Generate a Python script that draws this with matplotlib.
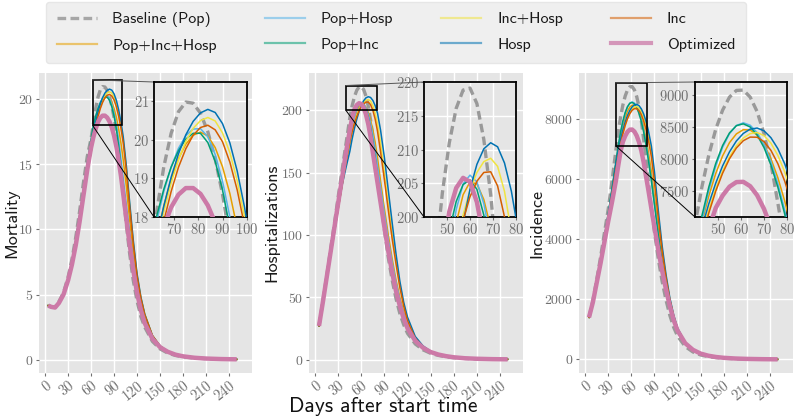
import matplotlib
matplotlib.use('Agg')
import matplotlib.pyplot as plt
from matplotlib.lines import Line2D
from mpl_toolkits.axes_grid1.inset_locator import mark_inset

# ---------------- data ----------------
labels = ['Baseline (Pop)', 'Pop+Inc+Hosp', 'Pop+Hosp', 'Pop+Inc',
          'Inc+Hosp', 'Hosp', 'Inc', 'Optimized']

mort_days = [4, 8, 13, 18, 24, 30, 35, 40, 45, 50, 55,
             60, 63, 66, 69, 72, 75, 78, 81, 84, 87, 90, 93, 96, 99, 102,
             106, 110, 115, 120, 125, 130,
             140, 150, 160, 170, 180, 195, 210, 230, 250]
mort_base = [4.15, 4.05, 4.05, 4.45, 5.15, 6.35, 7.7, 9.4, 11.4, 13.6, 15.6,
             17.0, 18.1, 19.3, 20.17, 20.73, 20.98, 20.95, 20.69, 20.21, 19.51, 18.59, 17.45, 16.08, 14.5, 12.7,
             10.4, 8.3, 6.1, 4.5, 3.3, 2.5,
             1.4, 0.82, 0.5, 0.32, 0.21, 0.12, 0.07, 0.035, 0.018]
mort_pih = [4.15, 4.05, 4.0, 4.4, 5.05, 6.2, 7.4, 9.0, 10.9, 12.8, 14.7,
            16.45, 17.45, 18.29, 18.98, 19.51, 19.89, 20.12, 20.2, 20.1, 19.8, 19.3, 18.61, 17.71, 16.62, 15.3,
            13.3, 10.9, 8.2, 6.0, 4.45, 3.3,
            1.8, 1.0, 0.6, 0.37, 0.24, 0.13, 0.07, 0.035, 0.017]
mort_ph = [4.15, 4.05, 4.0, 4.4, 5.05, 6.25, 7.5, 9.15, 11.0, 13.0, 15.0,
           16.75, 17.86, 18.66, 19.3, 19.78, 20.11, 20.28, 20.29, 20.08, 19.62, 18.93, 18.0, 16.84, 15.4, 13.9,
           11.9, 9.9, 7.6, 5.6, 4.2, 3.1,
           1.75, 1.0, 0.6, 0.37, 0.24, 0.13, 0.07, 0.035, 0.017]
mort_pi = [4.15, 4.05, 4.0, 4.4, 5.05, 6.25, 7.5, 9.2, 11.1, 13.1, 15.1,
           16.95, 18.0, 18.72, 19.29, 19.72, 20.02, 20.17, 20.17, 19.93, 19.44, 18.7, 17.71, 16.38, 14.9, 13.4,
           11.4, 9.6, 7.4, 5.5, 4.1, 3.05,
           1.7, 0.98, 0.59, 0.37, 0.24, 0.13, 0.07, 0.035, 0.017]
mort_ih = [4.15, 4.05, 4.0, 4.4, 5.05, 6.2, 7.4, 9.0, 10.9, 12.8, 14.6,
           16.26, 17.26, 18.14, 18.88, 19.48, 19.96, 20.3, 20.5, 20.58, 20.49, 20.18, 19.67, 18.94, 18.0, 16.85,
           14.7, 12.1, 9.0, 6.5, 4.75, 3.5,
           1.85, 1.03, 0.61, 0.37, 0.24, 0.13, 0.07, 0.035, 0.017]
mort_hosp = [4.15, 4.05, 4.0, 4.4, 5.05, 6.2, 7.4, 9.0, 10.9, 12.8, 14.7,
             16.39, 17.4, 18.28, 19.03, 19.64, 20.13, 20.48, 20.7, 20.79, 20.71, 20.42, 19.92, 19.19, 18.25, 17.09,
             14.9, 12.3, 9.2, 6.6, 4.8, 3.5,
             1.85, 1.05, 0.62, 0.38, 0.25, 0.13, 0.07, 0.035, 0.017]
mort_inc = [4.15, 4.05, 4.0, 4.4, 5.0, 6.15, 7.35, 8.9, 10.7, 12.6, 14.4,
            15.93, 16.98, 17.89, 18.66, 19.29, 19.77, 20.12, 20.32, 20.38, 20.26, 19.95, 19.42, 18.7, 17.77, 16.63,
            14.5, 11.9, 8.9, 6.4, 4.7, 3.45,
            1.85, 1.05, 0.62, 0.38, 0.25, 0.13, 0.07, 0.035, 0.017]
mort_opt = [4.15, 4.05, 4.0, 4.35, 5.0, 6.1, 7.3, 8.8, 10.6, 12.6, 14.6,
            16.3, 17.1, 17.75, 18.25, 18.58, 18.75, 18.75, 18.6, 18.3, 17.85, 17.2, 16.35, 15.3, 14.1, 12.7,
            10.8, 9.0, 6.9, 5.1, 3.8, 2.8,
            1.6, 0.95, 0.6, 0.38, 0.25, 0.14, 0.08, 0.04, 0.02]

hosp_days = [5, 10, 15, 20, 25, 30, 35, 40,
             45, 48, 51, 54, 57, 60, 63, 66, 69, 72, 75, 78, 81,
             85, 90, 95, 100, 105, 110, 115, 120,
             130, 140, 150, 160, 170, 180, 195, 210, 230, 250]
hosp_base = [27, 47, 67, 88, 109, 131, 152, 173,
             193.9, 203.6, 211, 216.1, 218.8, 219.1, 216.8, 211.5, 203.3, 192.3, 178.5, 164, 149,
             129, 104, 82, 64, 49, 37, 28, 21,
             12.5, 7.8, 5.0, 3.3, 2.2, 1.5, 0.85, 0.5, 0.25, 0.12]
hosp_pih = [27, 45, 64, 84, 103, 123, 142, 159,
            173.5, 184, 192.7, 199.1, 203.3, 205.2, 204.9, 202.6, 198.4, 192.2, 184.1, 174.1, 162.1,
            143, 121, 100, 81, 64, 50, 38, 29,
            17, 10.3, 6.3, 4.1, 2.8, 1.9, 1.0, 0.6, 0.3, 0.15]
hosp_ph = [27, 46, 65, 85, 104, 124, 143, 160,
           176, 185.8, 194.7, 201.1, 204.9, 206.2, 205.2, 202, 196.8, 189.5, 180.1, 168.6, 155,
           138, 117, 96, 78, 62, 48, 37, 28,
           16, 10, 6.2, 4.1, 2.8, 1.85, 1.0, 0.6, 0.3, 0.15]
hosp_pi = [27, 46, 65, 85, 105, 125, 145, 164,
           181, 190.5, 197.9, 202.3, 204.8, 205.5, 204.1, 200.3, 194.3, 185.8, 175.1, 162, 147,
           129, 107, 88, 71, 57, 44, 34, 26,
           15.5, 9.7, 6.1, 4.0, 2.7, 1.8, 1.0, 0.6, 0.3, 0.15]
hosp_ih = [27, 45, 64, 83, 102, 122, 141, 158,
           175.3, 183.1, 189.9, 195.7, 200.3, 204, 206.6, 208.2, 208.7, 207.5, 203.8, 197.7, 189.1,
           173.9, 150, 125, 101, 80, 60, 44, 32,
           17, 10.5, 6.3, 4.1, 2.8, 1.9, 1.0, 0.6, 0.3, 0.15]
hosp_hosp = [27, 45, 64, 83, 102, 122, 140, 154,
             167, 177, 185.5, 192.8, 199.1, 204.1, 207.8, 210.1, 211, 210.4, 208, 203.8, 197.8,
             184, 162, 136, 110, 85, 63, 46, 34,
             18.5, 11, 6.6, 4.3, 2.8, 1.9, 1.0, 0.6, 0.3, 0.15]
hosp_inc = [27, 45, 64, 83, 102, 121, 140, 158,
            175.1, 182.8, 189.5, 195, 199.5, 203, 205.3, 206.6, 206.7, 204.6, 200, 192.9, 183.3,
            166.6, 144, 120, 97, 77, 58, 43, 31,
            17, 10.3, 6.3, 4.1, 2.8, 1.9, 1.0, 0.6, 0.3, 0.15]
hosp_opt = [27, 46, 66, 86, 106, 126, 146, 166,
            184, 194, 200.8, 204.3, 205.8, 205.2, 202.2, 196.8, 189, 178.8, 166, 154, 142,
            126, 106, 87, 70, 55, 43, 33, 25,
            15, 9.5, 6, 4, 2.7, 1.8, 1.0, 0.6, 0.3, 0.15]

inc_days = [5, 10, 15, 20, 25, 30, 35,
            40, 43, 46, 49, 52, 55, 58, 61, 64, 67, 70, 73, 76, 79, 82,
            86, 90, 95, 100, 105, 110, 115, 120,
            130, 140, 150, 160, 170, 180, 195, 210, 230, 250]
inc_base = [1400, 1950, 2650, 3400, 4200, 5000, 5950,
            6980, 7568, 8064, 8462, 8762, 8965, 9069, 9074, 8965, 8740, 8398, 7938, 7322, 6674, 5950,
            5050, 4250, 3350, 2600, 1980, 1470, 1070, 780,
            430, 250, 150, 95, 62, 42, 24, 14, 7, 3.5]
inc_pih = [1400, 1910, 2580, 3290, 4050, 4820, 5650,
           6527, 7014, 7428, 7775, 8051, 8257, 8393, 8458, 8453, 8377, 8228, 8007, 7714, 7349, 6913,
           6250, 5400, 4350, 3400, 2600, 1920, 1390, 1000,
           540, 310, 185, 118, 77, 51, 28, 17, 9, 4]
inc_ph = [1400, 1920, 2590, 3300, 4060, 4830, 5660,
          6501, 7049, 7512, 7891, 8186, 8397, 8523, 8565, 8527, 8414, 8226, 7962, 7622, 7207, 6720,
          6000, 5180, 4170, 3260, 2490, 1840, 1325, 965,
          528, 306, 183, 117, 76, 50, 28, 17, 9, 4]
inc_pi = [1400, 1920, 2600, 3320, 4080, 4850, 5700,
          6584, 7118, 7566, 7931, 8212, 8408, 8521, 8549, 8500, 8377, 8180, 7909, 7566, 7147, 6656,
          5950, 5150, 4150, 3250, 2480, 1830, 1320, 960,
          525, 305, 182, 116, 76, 50, 28, 17, 9, 4]
inc_ih = [1400, 1900, 2550, 3250, 3980, 4750, 5560,
          6400, 6831, 7210, 7537, 7812, 8036, 8208, 8329, 8397, 8414, 8367, 8249, 8061, 7802, 7472,
          6900, 6000, 4750, 3650, 2750, 2000, 1450, 1030,
          550, 315, 188, 119, 78, 51, 28, 17, 9, 4]
inc_hosp = [1400, 1910, 2570, 3280, 4030, 4810, 5630,
            6512, 6934, 7305, 7625, 7895, 8114, 8283, 8400, 8467, 8484, 8441, 8334, 8164, 7928, 7628,
            7100, 6250, 4950, 3780, 2830, 2050, 1480, 1050,
            560, 320, 190, 120, 78, 52, 28, 17, 9, 4]
inc_inc = [1400, 1900, 2550, 3240, 3960, 4720, 5520,
           6319, 6769, 7162, 7500, 7781, 8006, 8174, 8287, 8343, 8341, 8273, 8137, 7931, 7658, 7316,
           6750, 5900, 4700, 3600, 2720, 1990, 1440, 1020,
           550, 315, 188, 119, 78, 51, 28, 17, 9, 4]
inc_opt = [1400, 1900, 2550, 3200, 3900, 4600, 5250,
           5950, 6450, 6920, 7240, 7433, 7572, 7643, 7647, 7579, 7439, 7226, 6939, 6555, 6100, 5650,
           5020, 4400, 3650, 2950, 2330, 1780, 1310, 960,
           540, 320, 195, 125, 82, 55, 32, 19, 10, 5]

main_xticks = [0, 30, 60, 90, 120, 150, 180, 210, 240]
mort_yticks = [0, 5, 10, 15, 20]
hosp_yticks = [0, 50, 100, 150, 200]
inc_yticks = [0, 2000, 4000, 6000, 8000]

# ---------------- style ----------------
plt.rcParams.update({
    'font.family': 'cmr10',
    'axes.formatter.use_mathtext': True,
    'axes.unicode_minus': False,
})

BG = '#E5E5E5'
TICKC = '#707070'
colors = ['#999999', '#E69F00', '#56B4E9', '#009E73',
          '#F0E442', '#0072B2', '#D55E00', '#CC79A7']
SANS = 'cmss10'

fig = plt.figure(figsize=(7.95, 4.18), dpi=100)


def draw_lines(ax, days, series):
    base, rest, opt = series[0], series[1:-1], series[-1]
    ax.plot(days, base, color=colors[0], lw=2.4, ls=(0, (2.6, 1.3)), zorder=2)
    for s, c in zip(rest, colors[1:-1]):
        ax.plot(days, s, color=c, lw=1.1, zorder=3)
    ax.plot(days, opt, color=colors[-1], lw=3.2, zorder=4, solid_capstyle='butt')


def style_axes(ax, size):
    ax.set_facecolor(BG)
    ax.grid(True, color='white', lw=1.0)
    ax.set_axisbelow(True)
    ax.tick_params(colors=TICKC, labelsize=size, length=2.5, width=0.8, pad=1.5)


def panel(rect, inrect, days, series, ylabel, ylab_x, yticks,
          xlim_in, ylim_in, xt_in, yt_in):
    ax = fig.add_axes(rect)
    style_axes(ax, 10.5)
    ax.tick_params(axis='y', labelsize=10)
    for sp in ax.spines.values():
        sp.set_visible(False)
    draw_lines(ax, days, series)
    ax.set_xlim(-8, 270)
    ax.set_xticks(main_xticks)
    ax.set_yticks(yticks)
    ax.set_xticklabels([str(t) for t in main_xticks], rotation=38,
                       ha='right', rotation_mode='anchor')
    ax.set_ylabel(ylabel, fontfamily=SANS, fontsize=13, color='#1a1a1a')
    ax.yaxis.set_label_coords(ylab_x, 0.5)

    axin = fig.add_axes(inrect)
    style_axes(axin, 10.5)
    draw_lines(axin, days, series)
    axin.set_xlim(*xlim_in)
    axin.set_ylim(*ylim_in)
    axin.set_xticks(xt_in)
    axin.set_yticks(yt_in)
    for sp in axin.spines.values():
        sp.set_color('black')
        sp.set_linewidth(1.3)
    axin.tick_params(length=2)
    pp, p1, p2 = mark_inset(ax, axin, loc1=2, loc2=3, fc='none', ec='black', lw=0.7)
    pp.set_linewidth(1.2)
    pp.set_zorder(6)
    p1.set_color('#555555')
    return ax, axin


H = 300 / 418
B = 1 - 373 / 418
IB = 1 - 217 / 418
IH = 135 / 418

panel([39 / 795, B, 213 / 795, H], [154 / 795, IB, 93 / 795, IH],
      mort_days, [mort_base, mort_pih, mort_ph, mort_pi, mort_ih, mort_hosp, mort_inc, mort_opt],
      'Mortality', -0.092, mort_yticks, (62, 100), (18, 21.5), [70, 80, 90, 100], [18, 19, 20, 21])

panel([309 / 795, B, 214 / 795, H], [424 / 795, IB, 92 / 795, IH],
      hosp_days, [hosp_base, hosp_pih, hosp_ph, hosp_pi, hosp_ih, hosp_hosp, hosp_inc, hosp_opt],
      'Hospitalizations', -0.138, hosp_yticks, (40, 80), (200, 220), [50, 60, 70, 80],
      [200, 205, 210, 215, 220])

panel([579 / 795, B, 214 / 795, H], [695 / 795, IB, 92 / 795, IH],
      inc_days, [inc_base, inc_pih, inc_ph, inc_pi, inc_ih, inc_hosp, inc_inc, inc_opt],
      'Incidence', -0.162, inc_yticks, (40, 80), (7100, 9200), [50, 60, 70, 80],
      [7500, 8000, 8500, 9000])

fig.text(383 / 795, 1 - 407 / 418, 'Days after start time', ha='center', va='center',
         fontfamily=SANS, fontsize=15.5, color='#111111')

handles = [Line2D([], [], color=colors[0], lw=2.4, ls=(0, (2.6, 1.3)), alpha=0.85)]
for c in colors[1:-1]:
    handles.append(Line2D([], [], color=c, lw=1.6, alpha=0.55))
handles.append(Line2D([], [], color=colors[-1], lw=3.0, alpha=0.75))

leg = fig.legend(handles, labels, ncol=4, loc='upper center',
                 bbox_to_anchor=(396 / 795, 0.996), borderaxespad=0.0,
                 prop={'family': SANS, 'size': 11.5}, frameon=True,
                 fancybox=True, facecolor='#EFEFEF', edgecolor='#E6E6E6',
                 framealpha=1.0, handlelength=2.5, handletextpad=1.0,
                 columnspacing=3.0, borderpad=0.65, labelspacing=0.7)
for t in leg.get_texts():
    t.set_color('#1a1a1a')

fig.savefig('out.png', dpi=100)
